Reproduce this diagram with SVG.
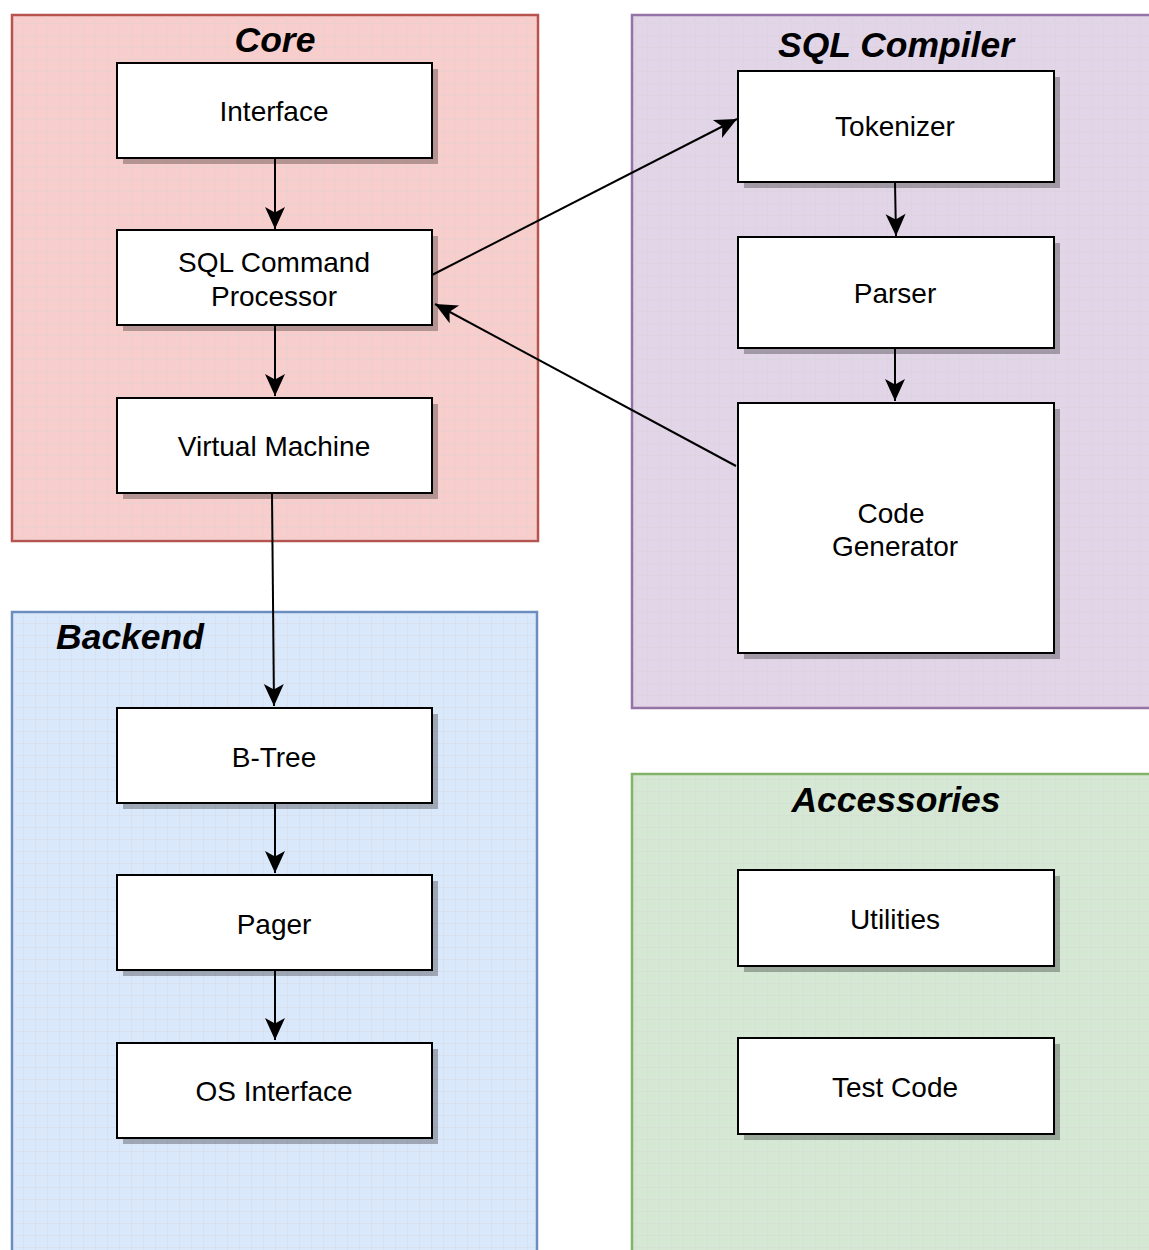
<svg xmlns="http://www.w3.org/2000/svg" width="1149" height="1250" viewBox="0 0 1149 1250">
  <defs>
    <pattern id="grid" width="12" height="12" patternUnits="userSpaceOnUse">
      <path d="M12 0 V12 M0 12 H12" fill="none" stroke="#d4d4d4" stroke-width="1" opacity="0.75"/>
    </pattern>
    <marker id="arrow" markerUnits="userSpaceOnUse" markerWidth="26" markerHeight="26" viewBox="-24 -12 26 24" refX="0" refY="0" orient="auto">
      <path d="M0 0 L-22 -10 L-16.5 0 L-22 10 Z" fill="#000"/>
    </marker>
    <style>
      .node rect.box { fill: #fff; stroke: #000; stroke-width: 2; }
      .node rect.shadow { fill: #000; opacity: 0.28; }
      .node text { font-family: "Liberation Sans", Arial, sans-serif; font-size: 28px; fill: #000; text-anchor: middle; }
      .title { font-family: "Liberation Sans", Arial, sans-serif; font-size: 35.5px; font-weight: bold; font-style: italic; fill: #000; }
      .edge { fill: none; stroke: #000; stroke-width: 2; marker-end: url(#arrow); }
    </style>
  </defs>

  <rect width="1149" height="1250" fill="#fff"/>

  <!-- containers -->
  <g id="core">
    <rect x="12" y="15" width="526" height="526" fill="#f8cecc" stroke="#b85450" stroke-width="2.5"/>
    <rect x="13" y="16" width="524" height="524" fill="url(#grid)"/>
    <text class="title" x="275" y="52" text-anchor="middle">Core</text>
  </g>
  <g id="sql-compiler">
    <rect x="632" y="15" width="530" height="693" fill="#e1d5e7" stroke="#9673a6" stroke-width="2.5"/>
    <rect x="633" y="16" width="528" height="691" fill="url(#grid)"/>
    <text class="title" x="896" y="57" text-anchor="middle">SQL Compiler</text>
  </g>
  <g id="backend">
    <rect x="12" y="612" width="525" height="660" fill="#dae8fc" stroke="#6c8ebf" stroke-width="2.5"/>
    <rect x="13" y="613" width="523" height="658" fill="url(#grid)"/>
    <text class="title" x="56" y="649">Backend</text>
  </g>
  <g id="accessories">
    <rect x="632" y="774" width="530" height="500" fill="#d5e8d4" stroke="#82b366" stroke-width="2.5"/>
    <rect x="633" y="775" width="528" height="498" fill="url(#grid)"/>
    <text class="title" x="896" y="812" text-anchor="middle">Accessories</text>
  </g>

  <!-- nodes -->
  <g id="interface" class="node">
    <rect class="shadow" x="123" y="69" width="315" height="95"/>
    <rect class="box" x="117" y="63" width="315" height="95"/>
    <text x="274" y="121">Interface</text>
  </g>
  <g id="sql-command-processor" class="node">
    <rect class="shadow" x="123" y="236" width="315" height="95"/>
    <rect class="box" x="117" y="230" width="315" height="95"/>
    <text x="274" y="272">SQL Command</text>
    <text x="274" y="306">Processor</text>
  </g>
  <g id="virtual-machine" class="node">
    <rect class="shadow" x="123" y="404" width="315" height="95"/>
    <rect class="box" x="117" y="398" width="315" height="95"/>
    <text x="274" y="456">Virtual Machine</text>
  </g>
  <g id="b-tree" class="node">
    <rect class="shadow" x="123" y="714" width="315" height="95"/>
    <rect class="box" x="117" y="708" width="315" height="95"/>
    <text x="274" y="767">B-Tree</text>
  </g>
  <g id="pager" class="node">
    <rect class="shadow" x="123" y="881" width="315" height="95"/>
    <rect class="box" x="117" y="875" width="315" height="95"/>
    <text x="274" y="934">Pager</text>
  </g>
  <g id="os-interface" class="node">
    <rect class="shadow" x="123" y="1049" width="315" height="95"/>
    <rect class="box" x="117" y="1043" width="315" height="95"/>
    <text x="274" y="1101">OS Interface</text>
  </g>
  <g id="tokenizer" class="node">
    <rect class="shadow" x="744" y="77" width="316" height="111"/>
    <rect class="box" x="738" y="71" width="316" height="111"/>
    <text x="895" y="136">Tokenizer</text>
  </g>
  <g id="parser" class="node">
    <rect class="shadow" x="744" y="243" width="316" height="111"/>
    <rect class="box" x="738" y="237" width="316" height="111"/>
    <text x="895" y="303">Parser</text>
  </g>
  <g id="code-generator" class="node">
    <rect class="shadow" x="744" y="409" width="316" height="250"/>
    <rect class="box" x="738" y="403" width="316" height="250"/>
    <text x="891" y="523">Code</text>
    <text x="895" y="556">Generator</text>
  </g>
  <g id="utilities" class="node">
    <rect class="shadow" x="744" y="876" width="316" height="96"/>
    <rect class="box" x="738" y="870" width="316" height="96"/>
    <text x="895" y="929">Utilities</text>
  </g>
  <g id="test-code" class="node">
    <rect class="shadow" x="744" y="1044" width="316" height="96"/>
    <rect class="box" x="738" y="1038" width="316" height="96"/>
    <text x="895" y="1097">Test Code</text>
  </g>

  <!-- connectors -->
  <g id="edges">
    <path class="edge" d="M275 158 V229"/>
    <path class="edge" d="M275 325 V396"/>
    <path class="edge" d="M272 494 L274 706"/>
    <path class="edge" d="M275 803 V873"/>
    <path class="edge" d="M275 970 V1040"/>
    <path class="edge" d="M432 275 L737 119"/>
    <path class="edge" d="M736 466 L435 304"/>
    <path class="edge" d="M895 182 L896 236"/>
    <path class="edge" d="M895 348 V401"/>
  </g>
</svg>
